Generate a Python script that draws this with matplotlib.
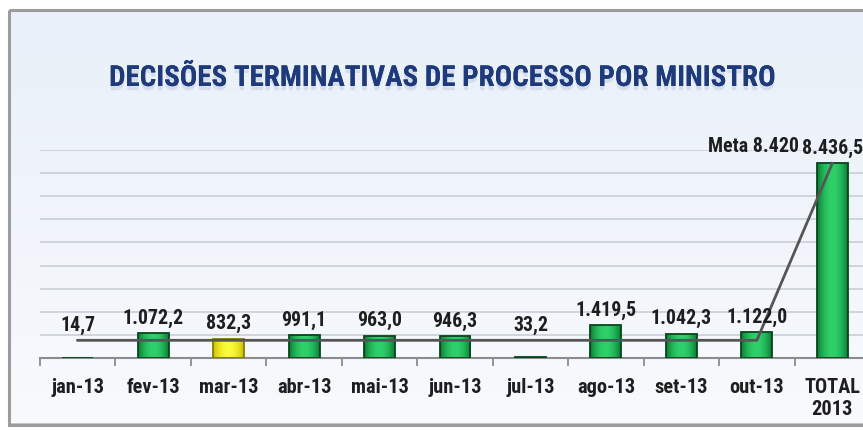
import numpy as np
from matplotlib import pyplot as plt
from matplotlib import patheffects, font_manager
from matplotlib.patches import Rectangle
from matplotlib.colors import to_rgb

# dados do gráfico
categorias = ["jan-13", "fev-13", "mar-13", "abr-13", "mai-13", "jun-13",
              "jul-13", "ago-13", "set-13", "out-13", "TOTAL\n2013"]
valores = [14.7, 1072.2, 832.3, 991.1, 963.0, 946.3, 33.2, 1419.5, 1042.3, 1122.0, 8436.5]
rotulos = ["14,7", "1.072,2", "832,3", "991,1", "963,0", "946,3", "33,2",
           "1.419,5", "1.042,3", "1.122,0", "8.436,5"]
meta_total = 8420
meta = [meta_total / 11] * 10 + [meta_total]
destaque = [False, False, True, False, False, False, False, False, False, False, False]


def fonte_estreita():
    # procura uma fonte bold estreita (tipo Calibri); senão usa Liberation Sans
    achadas = []
    for f in font_manager.fontManager.ttflist:
        nome = (f.fname + " " + f.name).lower()
        if ("narrow" in nome or "condensed" in nome or f.stretch in ("condensed", "semi-condensed")) \
                and "bold" in nome and "italic" not in nome and "oblique" not in nome \
                and "extra" not in nome and "semi" not in nome:
            achadas.append(f.fname)
    for pref in ["liberationsansnarrow", "robotocondensed", "dejavusanscondensed", "opensans"]:
        for a in achadas:
            if pref in a.lower().replace("-", "").replace("_", ""):
                return font_manager.FontProperties(fname=a)
    if achadas:
        return font_manager.FontProperties(fname=achadas[0])
    return font_manager.FontProperties(family="Liberation Sans", weight="bold")


fp = fonte_estreita()

W, H = 863, 431
fig = plt.figure(figsize=(W / 100, H / 100), dpi=100)
fig.patch.set_facecolor("white")
renderer = fig.canvas.get_renderer()


def ajusta(txt, alvo_px, base=14):
    # tamanho da fonte para que o texto tenha a largura medida na referência
    p = fp.copy()
    p.set_size(base)
    tmp = fig.text(0, 0, txt, fontproperties=p)
    w = tmp.get_window_extent(renderer).width
    tmp.remove()
    return base * alvo_px / w


fs_titulo = ajusta("DECISÕES TERMINATIVAS DE PROCESSO POR MINISTRO", 667, 24)
fs_rotulo = min(ajusta("1.072,2", 61), 15.5)
fs_cat = min(ajusta("jan-13", 53), 15.5)

# fundo com moldura
bg = fig.add_axes([0, 0, 1, 1], zorder=-5)
bg.set_xlim(0, W)
bg.set_ylim(H, 0)
bg.axis("off")
top_c = np.array(to_rgb("#e9f0f9"))
bot_c = np.array(to_rgb("#f8fafd"))
grad = np.linspace(0, 1, 100)[:, None, None] * (bot_c - top_c) + top_c
bg.imshow(np.repeat(grad, 2, axis=1), extent=(9, W + 5, 426, 11), aspect="auto", zorder=0)
bg.add_patch(Rectangle((9, 11), W, 415, fill=False, edgecolor="#9c9c9c", lw=2.2, zorder=1))
bg.add_patch(Rectangle((11, 424), W, 4, facecolor="#c8c8c8", edgecolor="none", zorder=0.5))

# título
pt = fp.copy()
pt.set_size(fs_titulo)
t = fig.text(442 / W, 1 - 79 / H, "DECISÕES TERMINATIVAS DE PROCESSO POR MINISTRO",
             ha="center", va="center", fontproperties=pt, color="#1f3a7a")
t.set_path_effects([patheffects.withSimplePatchShadow(offset=(0, -3), shadow_rgbFace="#9fb2cf", alpha=0.3),
                    patheffects.Normal()])

ax = fig.add_axes([40 / W, 72 / H, 830 / W, 208 / H])
ax.patch.set_alpha(0)
x = np.arange(len(categorias))
ax.set_yticks(np.arange(1000, 9001, 1000))
ax.yaxis.grid(True, color="#c9ced6", lw=1.2)
ax.set_axisbelow(True)
ax.tick_params(axis="y", length=0, labelleft=False)
for s in ["top", "right", "left"]:
    ax.spines[s].set_visible(False)
ax.spines["bottom"].set_color("#8c8c8c")
ax.spines["bottom"].set_linewidth(1.5)

pc = fp.copy()
pc.set_size(fs_cat)
ax.set_xticks(x)
ax.set_xticklabels(categorias, fontproperties=pc, color="#1e1e1e")
ax.tick_params(axis="x", length=0, pad=14)
ax.set_xticks(np.arange(0, len(categorias) + 1) - 0.5, minor=True)
ax.tick_params(axis="x", which="minor", length=6, width=1.3, color="#8c8c8c", direction="out")

largura = 0.41
prof = np.abs(np.linspace(-1, 1, 64))
for xi, v, amarelo in zip(x, valores, destaque):
    if amarelo:
        c_in, c_out, borda = to_rgb("#fbfb3a"), to_rgb("#c9bd00"), "#8a7f00"
    else:
        c_in, c_out, borda = to_rgb("#2fd06a"), to_rgb("#0a7a32"), "#07451c"
    c_in, c_out = np.array(c_in), np.array(c_out)
    img = (c_in[None, :] * (1 - prof[:, None] ** 2) + c_out[None, :] * prof[:, None] ** 2)[None, :, :]
    r = Rectangle((xi - largura / 2, 0), largura, v, facecolor="none", edgecolor=borda, lw=1.3, zorder=3)
    ax.add_patch(r)
    im = ax.imshow(img, extent=(xi - largura / 2, xi + largura / 2, 0, v), aspect="auto", zorder=2)
    im.set_clip_path(r)

ax.set_xlim(-0.5, len(categorias) - 0.5)
ax.set_ylim(0, 9000)

# linha da meta
ax.plot(x, meta, color="#555555", lw=2, zorder=4, clip_on=False)

pl = fp.copy()
pl.set_size(fs_rotulo)
for xi, v, m, txt in zip(x, valores, meta, rotulos):
    ax.annotate(txt, (xi, max(v, m)), xytext=(0, 16), textcoords="offset pixels",
                ha="center", va="center", fontproperties=pl, color="#1e1e1e",
                zorder=5, annotation_clip=False)
ax.annotate("Meta 8.420", (x[-1], meta[-1]), xytext=(-33, 18), textcoords="offset pixels",
            ha="right", va="center", fontproperties=pl, color="#1e1e1e",
            annotation_clip=False)

fig.savefig("out.png", dpi=100)
